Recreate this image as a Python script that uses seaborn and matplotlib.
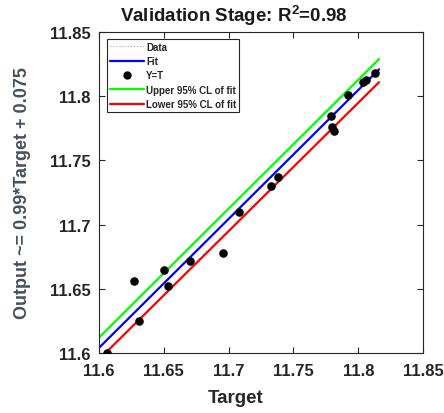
import matplotlib
matplotlib.use("Agg")
import matplotlib.pyplot as plt
import seaborn as sns
import numpy as np
import pandas as pd
from matplotlib.lines import Line2D

# Data
target = [11.606, 11.627, 11.631, 11.650, 11.653, 11.670, 11.696, 11.708,
          11.733, 11.738, 11.779, 11.780, 11.781, 11.792, 11.804, 11.806, 11.813]
output = [11.600, 11.656, 11.625, 11.665, 11.652, 11.672, 11.678, 11.710,
          11.730, 11.737, 11.785, 11.776, 11.773, 11.801, 11.811, 11.813, 11.818]

fit_x = [11.595, 11.816]
fit_y = [11.599, 11.821]
upper_y = [11.607, 11.829]
lower_y = [11.590, 11.811]

x_ticks = [11.6, 11.65, 11.7, 11.75, 11.8, 11.85]
y_ticks = [11.6, 11.65, 11.7, 11.75, 11.8, 11.85]
x_tick_labels = ["11.6", "11.65", "11.7", "11.75", "11.8", "11.85"]
y_tick_labels = ["11.6", "11.65", "11.7", "11.75", "11.8", "11.85"]

title = r"Validation Stage: R$^\mathbf{2}$=0.98"
x_label = "Target"
y_label = "Output ~= 0.99*Target + 0.075"
legend_labels = ["Data", "Fit", "Y=T", "Upper 95% CL of fit", "Lower 95% CL of fit"]

sns.set_theme(style="white")
plt.rcParams['font.family'] = ['Liberation Sans', 'DejaVu Sans']
plt.rcParams['mathtext.fontset'] = 'custom'
plt.rcParams['mathtext.bf'] = 'Liberation Sans:bold'
plt.rcParams['mathtext.rm'] = 'Liberation Sans'

fig = plt.figure(figsize=(4.44, 4.14), dpi=100)
ax = fig.add_axes([0.223, 0.145, 0.730, 0.775])

df_pts = pd.DataFrame({"Target": target, "Output": output})
lines_df = pd.DataFrame({
    "x": fit_x * 3,
    "y": fit_y + upper_y + lower_y,
    "kind": ["Fit"] * 2 + ["Upper"] * 2 + ["Lower"] * 2,
})

sns.lineplot(data=lines_df, x="x", y="y", hue="kind",
             palette={"Fit": "#0000ff", "Upper": "#00ff00", "Lower": "#ff0000"},
             linewidth=1.6, legend=False, ax=ax, sort=False)
sns.scatterplot(data=df_pts, x="Target", y="Output", color="black", s=38,
                edgecolor="black", linewidth=0, legend=False, ax=ax, zorder=5)

ax.set_xlim(11.6, 11.85)
ax.set_ylim(11.6, 11.85)
ax.set_xticks(x_ticks)
ax.set_xticklabels(x_tick_labels)
ax.set_yticks(y_ticks)
ax.set_yticklabels(y_tick_labels)
ax.tick_params(axis='both', direction='in', length=4, width=0.8, colors='#262626',
               labelsize=12, top=True, right=True, bottom=True, left=True,
               labeltop=False, labelright=False)
ax.tick_params(axis='x', pad=7)
ax.tick_params(axis='y', pad=6)
for lbl in ax.get_xticklabels() + ax.get_yticklabels():
    lbl.set_fontweight('bold')
    lbl.set_color('#262626')
for sp in ax.spines.values():
    sp.set_visible(True)
    sp.set_color('#262626')
    sp.set_linewidth(0.8)

fig.text(234 / 444, 1 - 16 / 414, title, fontsize=13.5, fontweight='bold',
         color='#1a1a1a', ha='center', va='center')
ax.set_xlabel(x_label, fontsize=13.5, fontweight='bold', color='#262626')
ax.xaxis.set_label_coords(0.42, -0.112)
ax.set_ylabel(y_label, fontsize=13, fontweight='bold', color='#45505c')
ax.yaxis.set_label_coords(-0.21, 0.5)

handles = [
    Line2D([0], [0], color='#aaaaaa', linestyle=':', linewidth=0.8),
    Line2D([0], [0], color='#0000ff', linewidth=1.6),
    Line2D([0], [0], color='black', marker='o', linestyle='None', markersize=5),
    Line2D([0], [0], color='#00ff00', linewidth=1.6),
    Line2D([0], [0], color='#ff0000', linewidth=1.6),
]
leg = ax.legend(handles, legend_labels, loc='upper left', bbox_to_anchor=(0.025, 0.978),
                frameon=True, fancybox=False, framealpha=1,
                edgecolor='#262626', handlelength=3.5, handletextpad=0.25,
                labelspacing=0.45, borderpad=0.25, borderaxespad=0.0,
                prop={'weight': 'bold', 'size': 7})
leg.get_frame().set_linewidth(0.8)

fig.savefig("out.png", dpi=100)
